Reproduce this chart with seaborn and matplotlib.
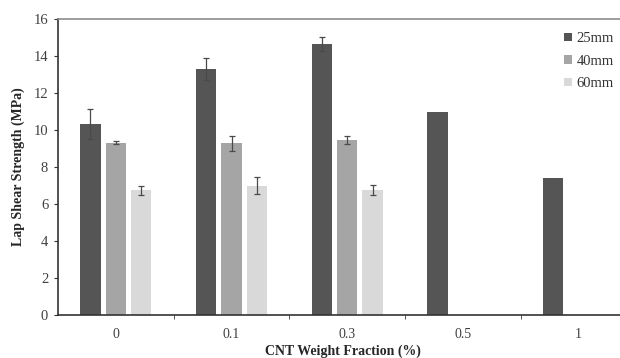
import matplotlib
matplotlib.use('Agg')
import numpy as np
import pandas as pd
import seaborn as sns
import matplotlib.pyplot as plt

# values
fractions = ["0", "0.1", "0.3", "0.5", "1"]
lengths = ["25mm", "40mm", "60mm"]
strength_25 = [10.33, 13.30, 14.65, 10.95, 7.42]
strength_40 = [9.31, 9.28, 9.46, np.nan, np.nan]
strength_60 = [6.74, 6.99, 6.78, np.nan, np.nan]
err_25 = [0.80, 0.58, 0.36, 0, 0]
err_40 = [0.08, 0.42, 0.23, 0, 0]
err_60 = [0.25, 0.45, 0.27, 0, 0]
colors = ["#555555", "#a5a5a5", "#d9d9d9"]

rows = []
for lab, vals, errs in zip(lengths, [strength_25, strength_40, strength_60],
                           [err_25, err_40, err_60]):
    for f, v, e in zip(fractions, vals, errs):
        rows.append({"fraction": f, "length": lab, "strength": v, "err": e})
df = pd.DataFrame(rows)

sns.set_style("white")
plt.rcParams['font.family'] = ['Liberation Serif', 'DejaVu Serif']

fig = plt.figure(figsize=(6.2, 3.58), dpi=100)
ax = fig.add_axes([0.0935, 0.12, 0.92, 0.827])

sns.barplot(data=df.dropna(), x="fraction", y="strength", hue="length",
            order=fractions, hue_order=lengths, palette=colors,
            width=0.66, gap=0.2, errorbar=None, ax=ax, saturation=1,
            edgecolor="none")

# error bars, matched to each drawn bar
bar_groups = list(ax.containers)
for j, cont in enumerate(bar_groups):
    errs = df[df["length"] == lengths[j]]["err"].values
    for bar in cont:
        xc = bar.get_x() + bar.get_width() / 2
        i = int(round(xc))
        if errs[i] > 0:
            ax.errorbar(xc, bar.get_height(), yerr=errs[i], fmt="none",
                        ecolor="#4a4a4a", elinewidth=0.9, capsize=2.5,
                        capthick=0.9)

ax.set_ylim(0, 16)
ax.set_yticks(np.arange(0, 17, 2))
ax.set_xlim(-0.5, 4.43)
ax.set_xticks(np.arange(0.5, 4, 1), minor=True)
ax.tick_params(axis="x", which="major", length=0, pad=9, labelsize=10,
               labelcolor="#404040")
ax.tick_params(axis="x", which="minor", direction="out", length=3,
               bottom=True, color="#333333")
ax.tick_params(axis="y", direction="out", length=3, left=True,
               labelsize=10.5, labelcolor="#404040", color="#333333", pad=4)

for s in ["left", "bottom"]:
    ax.spines[s].set_color("#333333")
    ax.spines[s].set_linewidth(1.2)
ax.spines["top"].set_color("#8c8c8c")
ax.spines["top"].set_linewidth(1.2)
ax.spines["right"].set_visible(False)

ax.set_xlabel("CNT Weight Fraction (%)", fontsize=10, fontweight="bold",
              labelpad=3)
ax.set_ylabel("Lap Shear Strength (MPa)", fontsize=10, fontweight="bold",
              labelpad=6)

leg = ax.legend(loc="upper right", bbox_to_anchor=(0.998, 1.0), frameon=False,
                fontsize=10.5, handlelength=0.55, handleheight=0.55,
                handletextpad=0.3, labelspacing=0.65, labelcolor="#333333")
leg.set_title(None)

fig.savefig("out.png", dpi=100)
